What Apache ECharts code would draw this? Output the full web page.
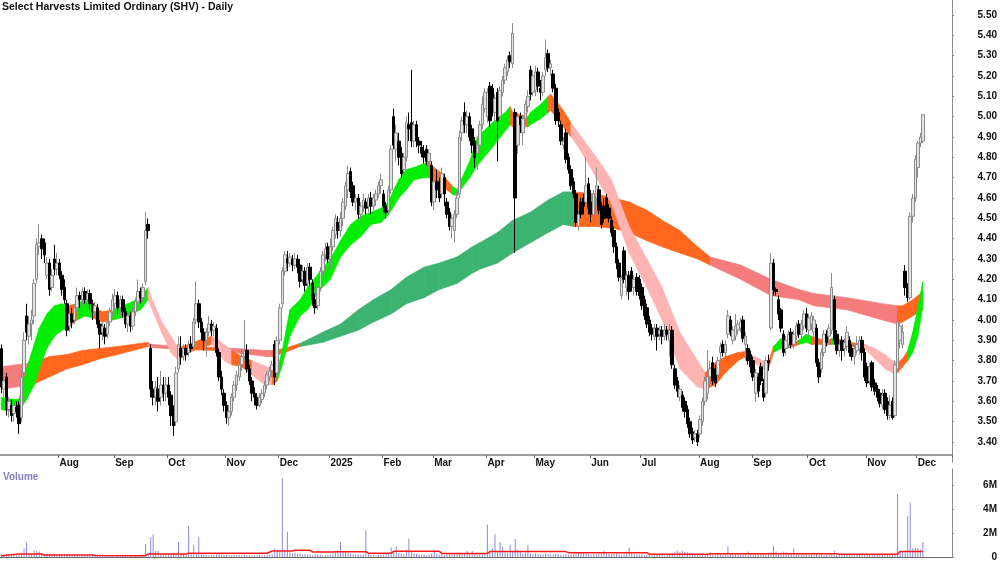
<!DOCTYPE html>
<html>
<head>
<meta charset="utf-8">
<script src="https://cdn.jsdelivr.net/npm/echarts@6/dist/echarts.min.js"></script>
<style>html,body{margin:0;padding:0;background:#fff}#chart{width:1000px;height:562px}</style>
</head>
<body>
<div id="chart"></div>
<script>
// trading days per month, Jul 2024 .. Dec 2025
const months = [['Jul',23],['Aug',22],['Sep',21],['Oct',23],['Nov',21],['Dec',20],['2025',21],['Feb',20],['Mar',21],['Apr',19],['May',22],['Jun',20],['Jul',23],['Aug',21],['Sep',22],['Oct',23],['Nov',20],['Dec',3]];
const padDays = 11;

// [open, close, low, high]
const jul24 = [[3.86,3.67,3.64,3.88],[3.66,3.70,3.62,3.74],[3.72,3.56,3.53,3.74],[3.56,3.60,3.52,3.62],[3.58,3.53,3.50,3.61],[3.54,3.58,3.50,3.60],[3.57,3.55,3.52,3.60],[3.58,3.49,3.44,3.60],[3.52,3.72,3.50,3.75],[3.74,3.90,3.70,3.94],[4.02,3.94,3.90,4.08],[3.92,3.98,3.88,4.02],[3.98,4.00,3.90,4.05],[4.02,4.18,3.98,4.20],[4.20,4.37,4.18,4.40],[4.36,4.38,4.32,4.47],[4.40,4.35,4.30,4.42],[4.38,4.32,4.28,4.40],[4.22,4.28,4.20,4.31],[4.28,4.15,4.12,4.30],[4.16,4.22,4.14,4.25],[4.30,4.25,4.22,4.37],[4.25,4.28,4.22,4.33]];
const aug24 = [[4.28,4.22,4.20,4.30],[4.22,4.15,4.12,4.24],[4.16,4.10,4.08,4.20],[4.08,3.95,3.92,4.10],[3.97,4.03,3.94,4.05],[4.03,3.99,3.96,4.06],[4.00,4.06,3.98,4.08],[4.06,4.12,4.04,4.16],[4.12,4.10,4.06,4.14],[4.10,4.14,4.07,4.16],[4.14,4.10,4.08,4.16],[4.10,4.13,4.07,4.15],[4.13,4.08,4.05,4.15],[4.08,4.04,4.00,4.10],[4.04,4.07,4.02,4.09],[4.06,3.98,3.96,4.08],[3.98,3.93,3.86,4.00],[3.94,3.97,3.90,3.99],[3.96,3.92,3.88,3.98],[3.93,3.99,3.91,4.01],[3.99,4.04,3.97,4.06],[4.04,4.10,4.02,4.13]];
const sep24 = [[4.08,4.12,4.05,4.15],[4.12,4.06,4.03,4.14],[4.06,4.10,4.02,4.12],[4.10,4.04,4.01,4.12],[4.04,3.98,3.96,4.06],[3.98,4.02,3.94,4.04],[4.02,3.97,3.94,4.04],[3.97,4.04,3.95,4.06],[4.04,4.09,4.02,4.11],[4.09,4.14,4.07,4.20],[4.14,4.11,4.08,4.16],[4.11,4.16,4.09,4.18],[4.19,4.44,4.17,4.53],[4.47,4.44,4.40,4.50],[3.86,3.66,3.62,3.88],[3.66,3.62,3.58,3.70],[3.62,3.67,3.58,3.70],[3.66,3.60,3.55,3.72],[3.62,3.68,3.58,3.75],[3.68,3.64,3.60,3.72],[3.64,3.68,3.60,3.72]];
const oct24 = [[3.68,3.62,3.58,3.72],[3.63,3.53,3.48,3.65],[3.55,3.48,3.43,3.58],[3.50,3.74,3.48,3.77],[3.76,3.88,3.74,3.92],[3.86,3.82,3.78,3.92],[3.82,3.86,3.80,3.88],[3.86,3.83,3.80,3.88],[3.84,3.88,3.82,3.90],[3.88,3.86,3.84,3.92],[3.87,3.99,3.85,4.01],[4.00,4.08,3.98,4.19],[4.08,3.99,3.96,4.10],[3.99,3.94,3.90,4.01],[3.94,3.90,3.85,3.96],[3.90,3.94,3.82,3.96],[3.94,3.98,3.92,4.02],[3.98,3.95,3.92,4.00],[3.95,3.97,3.92,3.99],[3.96,3.84,3.82,3.98],[3.84,3.72,3.70,3.86],[3.72,3.66,3.63,3.75],[3.64,3.58,3.55,3.66]];
const nov24 = [[3.58,3.52,3.49,3.60],[3.52,3.55,3.48,3.58],[3.55,3.62,3.53,3.64],[3.62,3.68,3.60,3.70],[3.68,3.73,3.65,3.75],[3.72,3.78,3.70,3.82],[3.78,3.82,3.75,3.86],[3.82,3.85,3.80,4.00],[3.85,3.76,3.74,3.88],[3.76,3.70,3.68,3.78],[3.70,3.64,3.60,3.72],[3.64,3.62,3.58,3.67],[3.62,3.58,3.56,3.64],[3.58,3.62,3.57,3.64],[3.61,3.64,3.59,3.66],[3.64,3.68,3.62,3.70],[3.68,3.73,3.66,3.75],[3.72,3.75,3.70,3.77],[3.75,3.78,3.72,3.80],[3.88,3.72,3.68,3.90],[3.74,3.90,3.72,3.92]];
const dec24 = [[3.90,4.06,3.88,4.08],[4.08,4.24,4.06,4.26],[4.24,4.32,4.22,4.34],[4.30,4.28,4.24,4.34],[4.28,4.31,4.26,4.33],[4.30,4.27,4.24,4.32],[4.27,4.30,4.25,4.33],[4.30,4.26,4.23,4.32],[4.27,4.19,4.16,4.30],[4.20,4.24,4.18,4.27],[4.24,4.17,4.14,4.26],[4.18,4.26,4.16,4.28],[4.26,4.20,4.17,4.28],[4.18,4.10,4.07,4.20],[4.10,4.06,4.03,4.13],[4.07,4.16,4.05,4.18],[4.16,4.24,4.14,4.26],[4.24,4.32,4.22,4.34],[4.32,4.35,4.29,4.38],[4.36,4.30,4.28,4.38]];
const jan25 = [[4.30,4.36,4.25,4.40],[4.36,4.44,4.34,4.46],[4.42,4.50,4.40,4.52],[4.48,4.44,4.40,4.51],[4.44,4.50,4.41,4.53],[4.50,4.58,4.46,4.60],[4.56,4.66,4.54,4.68],[4.64,4.72,4.60,4.76],[4.73,4.63,4.60,4.75],[4.66,4.58,4.56,4.68],[4.58,4.60,4.54,4.62],[4.60,4.52,4.50,4.62],[4.52,4.56,4.49,4.58],[4.56,4.59,4.53,4.62],[4.58,4.55,4.52,4.60],[4.56,4.60,4.53,4.62],[4.60,4.56,4.52,4.63],[4.56,4.60,4.54,4.62],[4.59,4.62,4.56,4.64],[4.62,4.66,4.60,4.68],[4.66,4.69,4.62,4.72]];
const feb25 = [[4.62,4.56,4.53,4.64],[4.56,4.53,4.50,4.58],[4.54,4.64,4.52,4.66],[4.64,4.84,4.62,4.86],[5.00,4.86,4.84,5.04],[4.84,4.92,4.78,4.96],[4.88,4.80,4.76,4.92],[4.82,4.72,4.70,4.85],[4.74,4.80,4.70,4.82],[4.80,4.97,4.78,5.00],[4.96,4.94,4.88,5.02],[4.97,4.88,4.85,5.23],[4.88,4.96,4.85,4.98],[4.96,4.88,4.85,4.98],[4.88,4.86,4.82,4.90],[4.85,4.82,4.80,4.88],[4.83,4.80,4.77,4.86],[4.84,4.78,4.76,4.86],[4.78,4.82,4.75,4.84],[4.76,4.58,4.56,4.78]];
const mar25 = [[4.58,4.68,4.54,4.72],[4.68,4.64,4.60,4.74],[4.66,4.60,4.58,4.70],[4.62,4.72,4.60,4.75],[4.70,4.62,4.56,4.72],[4.58,4.52,4.50,4.60],[4.53,4.46,4.44,4.55],[4.46,4.50,4.40,4.52],[4.44,4.52,4.38,4.54],[4.52,4.60,4.50,4.63],[4.62,4.90,4.60,4.93],[4.92,4.98,4.88,5.00],[5.02,4.96,4.92,5.07],[4.96,5.00,4.92,5.03],[5.00,4.90,4.88,5.02],[4.94,4.86,4.82,4.96],[4.88,4.80,4.75,4.90],[4.82,4.86,4.74,4.88],[4.86,4.96,4.84,4.98],[4.96,5.06,4.94,5.10],[5.04,5.12,5.02,5.14]];
const apr25 = [[5.00,5.12,4.97,5.14],[5.15,4.98,4.95,5.17],[5.14,5.03,5.00,5.16],[5.02,5.09,4.98,5.11],[5.12,4.98,4.78,5.14],[5.00,5.13,4.98,5.15],[5.12,5.18,5.10,5.20],[5.18,5.24,5.16,5.26],[5.22,5.28,5.20,5.30],[5.30,5.27,5.24,5.32],[5.26,5.41,5.24,5.46],[5.02,4.60,4.33,5.04],[4.86,5.00,4.82,5.02],[5.00,4.96,4.92,5.02],[4.92,4.99,4.86,5.00],[4.99,5.06,4.96,5.08],[5.05,5.10,5.02,5.13],[5.23,5.11,5.08,5.25],[5.12,5.20,5.10,5.23]];
const may25 = [[5.13,5.22,5.10,5.25],[5.22,5.15,5.12,5.24],[5.14,5.12,5.08,5.18],[5.12,5.20,5.10,5.22],[5.23,5.29,5.20,5.38],[5.31,5.24,5.22,5.33],[5.24,5.26,5.20,5.28],[5.21,5.14,5.12,5.23],[5.14,4.98,4.96,5.16],[5.02,4.98,4.95,5.04],[4.96,4.88,4.86,4.98],[4.86,4.88,4.84,4.90],[4.92,4.79,4.77,4.94],[4.80,4.74,4.72,4.82],[4.74,4.66,4.64,4.76],[4.68,4.62,4.60,4.70],[4.62,4.48,4.46,4.64],[4.46,4.52,4.44,4.54],[4.58,4.52,4.50,4.60],[4.60,4.56,4.52,4.62],[4.58,4.66,4.56,4.80],[4.67,4.55,4.52,4.70]];
const jun25 = [[4.58,4.52,4.48,4.64],[4.52,4.62,4.50,4.64],[4.60,4.66,4.56,4.75],[4.64,4.54,4.52,4.66],[4.56,4.47,4.45,4.58],[4.56,4.50,4.48,4.60],[4.60,4.52,4.50,4.62],[4.55,4.50,4.48,4.57],[4.49,4.43,4.41,4.51],[4.44,4.36,4.33,4.46],[4.36,4.28,4.25,4.38],[4.28,4.21,4.19,4.30],[4.12,4.21,4.10,4.22],[4.34,4.20,4.18,4.36],[4.16,4.22,4.12,4.24],[4.22,4.14,4.10,4.24],[4.24,4.16,4.14,4.26],[4.16,4.20,4.12,4.22],[4.21,4.14,4.12,4.23],[4.20,4.12,4.10,4.22]];
const jul25 = [[4.16,4.07,4.05,4.18],[4.10,4.02,4.00,4.12],[4.06,3.98,3.96,4.08],[4.00,3.94,3.92,4.02],[3.96,3.93,3.90,3.98],[3.92,3.96,3.90,3.98],[3.96,3.92,3.85,3.98],[3.93,3.95,3.90,3.97],[3.95,3.92,3.88,3.97],[3.92,3.95,3.90,3.98],[3.95,3.93,3.90,3.97],[3.90,3.95,3.82,3.98],[3.95,3.78,3.76,3.97],[3.76,3.68,3.66,3.78],[3.70,3.65,3.62,3.72],[3.62,3.66,3.60,3.68],[3.63,3.57,3.55,3.65],[3.60,3.55,3.52,3.62],[3.56,3.49,3.47,3.58],[3.50,3.44,3.42,3.52],[3.45,3.41,3.39,3.47],[3.42,3.44,3.40,3.46],[3.44,3.40,3.38,3.46]];
const aug25 = [[3.44,3.51,3.42,3.53],[3.50,3.60,3.48,3.62],[3.60,3.70,3.58,3.72],[3.64,3.72,3.61,3.85],[3.72,3.76,3.68,3.80],[3.79,3.70,3.68,3.82],[3.76,3.69,3.67,3.78],[3.73,3.80,3.71,3.82],[3.84,3.87,3.80,3.89],[3.88,3.84,3.82,3.90],[3.84,3.88,3.82,3.90],[3.93,4.02,3.91,4.05],[4.00,3.94,3.92,4.02],[3.90,3.95,3.88,3.97],[3.92,3.97,3.90,4.03],[3.95,3.98,3.93,4.00],[3.96,3.99,3.94,4.01],[4.00,3.91,3.89,4.02],[3.88,3.92,3.80,3.94],[3.86,3.80,3.78,3.88],[3.83,3.77,3.74,3.85]];
const sep25 = [[3.80,3.72,3.70,3.82],[3.64,3.74,3.60,3.76],[3.72,3.65,3.62,3.74],[3.77,3.70,3.68,3.79],[3.69,3.62,3.60,3.71],[3.64,3.80,3.62,3.82],[3.80,3.79,3.75,3.83],[3.96,4.28,3.95,4.33],[4.28,4.15,4.12,4.30],[4.15,4.14,4.12,4.16],[4.10,4.03,4.00,4.12],[4.05,3.96,3.94,4.06],[3.93,3.84,3.82,3.95],[3.86,3.90,3.83,3.92],[3.88,3.93,3.86,3.95],[3.94,3.88,3.86,3.96],[3.88,3.93,3.86,3.95],[3.92,3.97,3.90,3.99],[3.98,3.93,3.91,4.00],[3.93,3.98,3.91,4.00],[3.97,4.03,3.95,4.05],[4.03,3.96,3.94,4.06]];
const oct25 = [[3.95,4.01,3.92,4.03],[3.98,4.02,3.95,4.04],[3.94,4.00,3.90,4.02],[3.96,3.79,3.77,3.98],[3.79,3.72,3.69,3.81],[3.76,3.84,3.74,3.86],[3.84,3.93,3.82,3.95],[3.93,3.89,3.87,3.95],[3.92,3.96,3.88,3.98],[3.95,4.16,3.93,4.23],[4.10,3.90,3.88,4.12],[3.93,3.85,3.83,3.95],[3.85,3.88,3.82,3.90],[3.90,3.85,3.80,3.92],[3.86,3.89,3.82,3.91],[3.87,3.94,3.85,3.97],[3.90,3.84,3.82,3.92],[3.86,3.82,3.80,3.88],[3.82,3.86,3.78,3.88],[3.85,3.88,3.83,3.92],[3.86,3.90,3.83,3.92],[3.90,3.84,3.80,3.92],[3.84,3.72,3.70,3.86]];
const nov25 = [[3.77,3.69,3.67,3.79],[3.70,3.77,3.68,3.79],[3.79,3.67,3.65,3.80],[3.69,3.65,3.63,3.71],[3.66,3.62,3.60,3.68],[3.64,3.59,3.57,3.66],[3.58,3.63,3.56,3.66],[3.64,3.56,3.54,3.66],[3.60,3.53,3.51,3.62],[3.53,3.58,3.51,3.63],[3.60,3.52,3.51,3.62],[3.53,3.78,3.52,3.80],[3.76,3.99,3.74,4.02],[3.90,3.97,3.86,4.00],[3.88,3.94,3.86,3.98],[4.24,4.16,4.12,4.27],[4.16,4.11,4.09,4.18],[4.11,4.51,4.10,4.53],[4.51,4.60,4.48,4.62],[4.60,4.79,4.58,4.81]];
const dec25 = [[4.75,4.87,4.70,4.88],[4.87,4.90,4.85,4.92],[4.88,5.01,4.87,5.01]];

// daily volume, millions
const volJul24 = [0.25,0.18,0.22,0.15,0.14,0.12,0.15,0.2,0.35,0.7,1.2,0.3,0.28,0.5,0.5,0.45,0.3,0.25,0.2,0.18,0.22,0.2,0.15];
const volAug24 = [0.18,0.15,0.2,0.25,0.15,0.12,0.14,0.16,0.12,0.15,0.1,0.14,0.13,0.12,0.15,0.18,0.2,0.14,0.12,0.15,0.13,0.16];
const volSep24 = [0.12,0.14,0.1,0.12,0.15,0.13,0.11,0.14,0.12,0.15,0.18,0.2,1.07,0.3,1.65,1.9,0.5,0.5,0.3,0.25,0.2];
const volOct24 = [0.3,0.25,0.35,0.3,1.2,0.3,0.25,0.2,2.6,0.3,1.0,0.25,1.65,0.3,0.2,0.18,0.15,0.2,0.16,0.22,0.25,0.2,0.18];
const volNov24 = [0.2,0.18,0.15,0.16,0.14,0.18,0.15,0.2,0.16,0.14,0.12,0.15,0.13,0.16,0.12,0.14,0.18,0.2,0.25,0.7,0.5];
const volDec24 = [0.45,6.55,0.6,2.1,0.4,0.3,0.35,0.25,0.3,0.2,0.25,0.18,0.2,0.15,0.22,0.18,0.2,0.12,0.15,0.18];
const volJan25 = [0.2,0.3,0.35,0.55,1.25,0.45,0.4,0.35,0.3,0.25,0.2,0.22,0.18,0.2,2.2,0.25,0.2,0.18,0.15,0.2,0.22];
const volFeb25 = [0.2,0.25,0.3,0.8,0.4,0.9,0.35,0.3,0.25,0.6,1.55,0.4,0.3,0.25,0.2,0.18,0.2,0.15,0.22,0.3];
const volMar25 = [0.6,0.25,0.2,0.22,0.18,0.25,0.3,0.2,0.25,0.3,0.35,0.3,0.25,0.5,0.3,0.5,0.25,0.2,0.22,0.25,0.3];
const volApr25 = [2.7,0.4,0.7,1.9,0.5,1.25,0.85,0.4,0.35,1.05,0.5,1.5,0.6,0.4,0.3,0.35,1.0,0.3,0.25];
const volMay25 = [0.3,0.25,0.2,0.22,0.3,0.25,0.2,0.22,0.3,0.25,0.2,0.18,0.25,0.2,0.22,0.25,0.3,0.4,0.35,0.3,0.38,0.25];
const volJun25 = [0.2,0.25,0.22,0.3,0.25,0.55,0.3,0.25,0.22,0.28,0.3,0.25,0.2,0.22,0.25,0.8,0.3,0.25,0.22,0.2];
const volJul25 = [0.2,0.15,0.18,0.2,0.15,0.12,0.2,0.15,0.18,0.12,0.15,0.2,0.35,0.45,0.5,0.4,0.5,0.45,0.4,0.3,0.35,0.3,0.25];
const volAug25 = [0.3,0.35,0.25,0.3,0.4,0.2,0.25,0.3,0.22,0.2,0.25,0.85,0.3,0.25,0.2,0.22,0.18,0.25,0.3,0.45,0.3];
const volSep25 = [0.25,0.2,0.22,0.3,0.25,0.2,0.35,0.4,0.9,0.45,0.3,0.35,0.45,0.4,0.3,0.35,0.7,0.3,0.25,0.2,0.22,0.25];
const volOct25 = [0.2,0.22,0.18,0.25,0.2,0.22,0.18,0.2,0.25,0.3,0.55,0.3,0.25,0.2,0.18,0.2,0.22,0.18,0.15,0.2,0.18,0.22,0.2];
const volNov25 = [0.2,0.18,0.22,0.2,0.18,0.2,0.22,0.18,0.25,0.2,0.22,0.3,5.25,0.45,0.5,0.4,3.4,4.55,0.7,0.75];
const volDec25 = [0.7,0.65,1.25];

// volume average line, [day index, millions]
const volAvg = [[0,0.11],[7,0.25],[16,0.25],[17,0.17],[36,0.17],[37,0.12],[57,0.11],[58,0.25],[73,0.25],[74,0.31],[105,0.31],[107,0.5],[115,0.5],[116,0.56],[122,0.56],[123,0.42],[131,0.42],[132,0.44],[144,0.44],[145,0.32],[154,0.32],[155,0.47],[173,0.47],[174,0.3],[192,0.3],[193,0.45],[223,0.45],[224,0.36],[255,0.36],[256,0.22],[279,0.22],[280,0.28],[330,0.28],[331,0.22],[354,0.22],[355,0.45],[364,0.45]];

// ribbons: [day index, low, high, state of following stretch]
const fastBand = [[0,3.56,3.62,'g'],[4,3.55,3.61,'g'],[7,3.56,3.61,'g'],[8,3.57,3.66,'g'],[10,3.61,3.76,'g'],[13,3.68,3.88,'g'],[15,3.76,3.96,'g'],[18,3.86,4.03,'g'],[21,3.92,4.07,'g'],[24,3.95,4.08,'g'],[26,3.96,4.07,'o'],[30,4.00,4.08,'g'],[33,4.02,4.10,'g'],[36,4.01,4.07,'o'],[40,3.99,4.04,'o'],[44,4.00,4.05,'g'],[50,4.02,4.08,'g'],[55,4.05,4.11,'g'],[58,4.10,4.16,'p'],[59,4.07,4.12,'p'],[63,3.95,4.00,'p'],[67,3.84,3.92,'p'],[70,3.80,3.86,'o'],[74,3.84,3.88,'o'],[78,3.86,3.90,'o'],[83,3.88,3.92,'p'],[85,3.86,3.91,'p'],[88,3.80,3.88,'p'],[91,3.78,3.85,'o'],[95,3.77,3.82,'o'],[99,3.73,3.80,'p'],[103,3.69,3.78,'p'],[107,3.68,3.76,'o'],[109,3.70,3.76,'g'],[111,3.78,3.85,'g'],[114,3.92,4.05,'g'],[118,4.02,4.10,'g'],[121,4.05,4.16,'g'],[126,4.15,4.24,'g'],[130,4.20,4.30,'g'],[134,4.31,4.39,'g'],[138,4.37,4.47,'g'],[142,4.41,4.51,'g'],[146,4.47,4.53,'g'],[150,4.48,4.55,'g'],[153,4.52,4.58,'g'],[155,4.56,4.64,'g'],[157,4.60,4.69,'g'],[160,4.64,4.74,'g'],[163,4.69,4.75,'g'],[167,4.70,4.77,'g'],[169,4.70,4.78,'o'],[170,4.69,4.76,'o'],[174,4.66,4.72,'o'],[178,4.62,4.66,'g'],[180,4.61,4.64,'g'],[182,4.65,4.70,'g'],[185,4.70,4.78,'g'],[188,4.76,4.90,'g'],[194,4.85,4.97,'g'],[199,4.93,5.02,'g'],[201,4.96,5.05,'o'],[202,4.95,5.02,'o'],[208,4.95,5.00,'g'],[209,4.96,5.02,'g'],[213,4.99,5.06,'g'],[216,5.02,5.10,'o'],[217,5.03,5.11,'o'],[219,5.00,5.08,'o'],[222,4.95,5.03,'o'],[225,4.90,4.97,'p'],[228,4.85,4.92,'p'],[235,4.70,4.80,'p'],[241,4.57,4.69,'p'],[248,4.33,4.46,'p'],[255,4.16,4.30,'p'],[261,4.00,4.16,'p'],[268,3.76,3.94,'p'],[275,3.67,3.80,'p'],[278,3.66,3.74,'o'],[282,3.68,3.79,'o'],[286,3.74,3.82,'o'],[291,3.80,3.84,'o'],[294,3.82,3.845,'p'],[296,3.80,3.83,'p'],[301,3.76,3.80,'p'],[303,3.76,3.79,'o'],[305,3.84,3.87,'g'],[308,3.86,3.91,'g'],[310,3.86,3.89,'o'],[313,3.87,3.89,'o'],[315,3.88,3.90,'g'],[318,3.89,3.93,'g'],[320,3.88,3.92,'o'],[326,3.88,3.895,'o'],[328,3.88,3.91,'g'],[330,3.88,3.91,'o'],[335,3.87,3.89,'o'],[341,3.86,3.88,'p'],[345,3.81,3.86,'p'],[349,3.76,3.83,'p'],[352,3.74,3.80,'p'],[354,3.74,3.79,'o'],[356,3.77,3.81,'o'],[358,3.80,3.85,'g'],[360,3.84,3.94,'g'],[362,3.92,4.06,'g'],[364,4.07,4.19,'g']];
const slowBand = [[0,3.66,3.77,'r'],[6,3.67,3.78,'r'],[12,3.68,3.79,'o'],[19,3.72,3.82,'o'],[26,3.76,3.83,'o'],[32,3.78,3.85,'o'],[39,3.81,3.86,'o'],[46,3.83,3.87,'o'],[52,3.85,3.88,'o'],[58,3.87,3.89,'r'],[59,3.865,3.88,'r'],[65,3.86,3.875,'r'],[73,3.855,3.87,'o'],[85,3.85,3.865,'r'],[92,3.84,3.86,'r'],[105,3.82,3.85,'r'],[107,3.82,3.85,'o'],[112,3.84,3.86,'o'],[118,3.87,3.885,'G'],[127,3.89,3.94,'G'],[134,3.92,3.98,'G'],[141,3.95,4.05,'G'],[147,3.99,4.10,'G'],[154,4.03,4.15,'G'],[160,4.08,4.21,'G'],[167,4.11,4.26,'G'],[173,4.15,4.28,'G'],[180,4.18,4.31,'G'],[186,4.23,4.36,'G'],[189,4.25,4.38,'G'],[196,4.28,4.43,'G'],[202,4.33,4.49,'G'],[209,4.38,4.53,'G'],[216,4.43,4.59,'G'],[222,4.47,4.63,'G'],[226,4.46,4.63,'o'],[235,4.46,4.62,'o'],[242,4.45,4.60,'o'],[248,4.43,4.58,'o'],[255,4.39,4.54,'o'],[261,4.36,4.49,'o'],[268,4.33,4.44,'o'],[275,4.30,4.36,'o'],[280,4.27,4.31,'r'],[292,4.20,4.27,'r'],[304,4.12,4.20,'r'],[315,4.10,4.15,'r'],[321,4.07,4.13,'r'],[334,4.05,4.11,'r'],[348,4.00,4.08,'r'],[354,3.98,4.07,'o'],[356,3.99,4.07,'o'],[360,4.02,4.10,'o'],[364,4.05,4.14,'o']];

const bandColors = { g: '#00ee00', o: '#ff671f', p: '#ffb3b3', G: '#3cb371', r: '#f47c7c' };

const ohlc = [].concat(jul24, aug24, sep24, oct24, nov24, dec24, jan25, feb25, mar25, apr25, may25, jun25, jul25, aug25, sep25, oct25, nov25, dec25);
const volume = [].concat(volJul24, volAug24, volSep24, volOct24, volNov24, volDec24, volJan25, volFeb25, volMar25, volApr25, volMay25, volJun25, volJul25, volAug25, volSep25, volOct25, volNov25, volDec25);

const cats = [];
months.forEach(([name, n], mi) => {
  for (let k = 1; k <= n; k++) cats.push(name + '|' + mi + '|' + k);
});
for (let i = 0; i < padDays; i++) cats.push('pad|x|' + i);

function monthStart(idx, v) {
  const p = v.split('|');
  return p[0] !== 'pad' && p[2] === '1' && p[1] !== '0';
}

function bandSeries(points, z) {
  return {
    type: 'custom', xAxisIndex: 0, yAxisIndex: 0, silent: true, z: z,
    data: points.slice(0, -1).map((p, i) => [p[0], p[1], p[2], points[i + 1][0], points[i + 1][1], points[i + 1][2]]),
    renderItem: function (params, api) {
      const a = points[params.dataIndex], b = points[params.dataIndex + 1];
      const c = bandColors[a[3]];
      const pts = [api.coord([a[0], a[2]]), api.coord([b[0], b[2]]), api.coord([b[0], b[1]]), api.coord([a[0], a[1]])];
      return { type: 'polygon', shape: { points: pts }, style: { fill: c, stroke: c, lineWidth: 0.7 } };
    }
  };
}

const font = 'Liberation Sans, Arial, sans-serif';
const chart = echarts.init(document.getElementById('chart'), null, { renderer: 'canvas' });
chart.setOption({
  animation: false,
  backgroundColor: '#ffffff',
  textStyle: { fontFamily: font },
  title: {
    text: 'Select Harvests Limited Ordinary (SHV) - Daily', left: 2, top: 2, padding: 0,
    textStyle: { fontSize: 10.5, fontWeight: 'bold', color: '#111', fontFamily: font }
  },
  graphic: [{ type: 'text', left: 3, top: 472, style: { text: 'Volume', fill: '#8080c0', font: 'bold 10px ' + font } }],
  grid: [
    { left: 0, right: 48, top: -5.33, bottom: 99.67, containLabel: false, outerBoundsMode: 'none' },
    { left: 0, right: 48, top: 469, bottom: 5, containLabel: false, outerBoundsMode: 'none' }
  ],
  xAxis: [
    {
      type: 'category', gridIndex: 0, data: cats, boundaryGap: true, offset: -7.33,
      axisLine: { lineStyle: { color: '#9c9c9c', width: 2 } },
      axisTick: { show: true, interval: monthStart, length: 3, lineStyle: { color: '#666' } },
      axisLabel: { interval: monthStart, formatter: v => v.split('|')[0], align: 'left', margin: 3, fontSize: 10, fontWeight: 'bold', color: '#111', fontFamily: font },
      splitLine: { show: false }
    },
    {
      type: 'category', gridIndex: 1, data: cats, boundaryGap: true, position: 'top',
      axisLine: { lineStyle: { color: '#6a6a6a', width: 1 } },
      axisTick: { show: false }, axisLabel: { show: false }, splitLine: { show: false }
    }
  ],
  yAxis: [
    {
      type: 'value', gridIndex: 0, position: 'right', min: 3.3, max: 5.6, interval: 0.1,
      axisLine: { show: true, lineStyle: { color: '#8a8a8a' } },
      axisTick: { show: true, length: 2, lineStyle: { color: '#8a8a8a' } },
      axisLabel: { showMinLabel: false, showMaxLabel: false, formatter: v => v.toFixed(2), align: 'right', margin: 45, fontSize: 10, fontWeight: 'bold', color: '#111', fontFamily: font },
      splitLine: { show: false }
    },
    {
      type: 'value', gridIndex: 1, position: 'right', min: 0, max: 7.33, interval: 2,
      axisLine: { show: true, lineStyle: { color: '#8a8a8a' } },
      axisTick: { show: true, length: 2, lineStyle: { color: '#8a8a8a' } },
      axisLabel: { showMaxLabel: false, formatter: v => (v === 0 ? '0' : v + 'M'), align: 'right', margin: 45, fontSize: 10, fontWeight: 'bold', color: '#111', fontFamily: font },
      splitLine: { show: false }
    }
  ],
  series: [
    bandSeries(slowBand, 1),
    bandSeries(fastBand, 2),
    {
      type: 'candlestick', xAxisIndex: 0, yAxisIndex: 0, z: 3, data: ohlc, barWidth: 3,
      itemStyle: { color: '#e2e2e2', color0: '#000000', borderColor: '#8c8c8c', borderColor0: '#000000', borderWidth: 1 }
    },
    {
      type: 'bar', xAxisIndex: 1, yAxisIndex: 1, data: volume, barWidth: 1,
      itemStyle: { color: '#8b8bd8' }
    },
    {
      type: 'line', xAxisIndex: 1, yAxisIndex: 1, data: volAvg, showSymbol: false, z: 4,
      lineStyle: { color: '#ff1a1a', width: 1.5 }
    }
  ]
});
</script>
</body>
</html>
